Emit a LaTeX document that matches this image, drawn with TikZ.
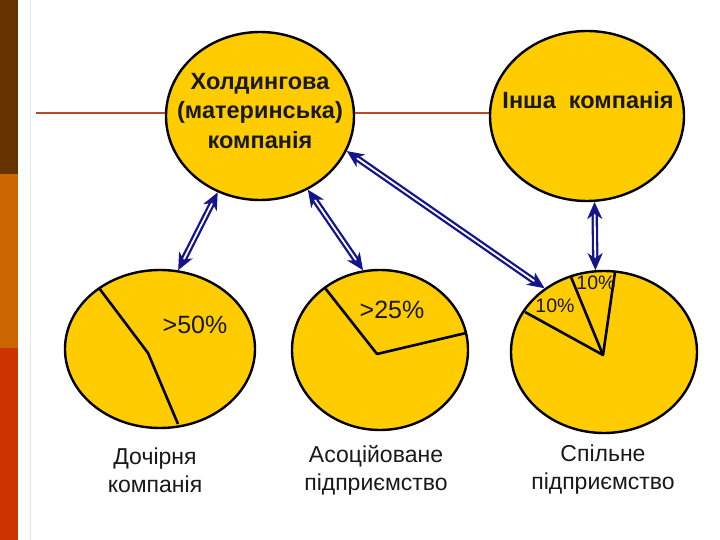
\documentclass[tikz,border=0pt]{standalone}
\usepackage{fontspec}
\setmainfont{Liberation Sans}
\usetikzlibrary{shapes.geometric,arrows.meta,calc}
\definecolor{pieyellow}{RGB}{255,204,0}
\definecolor{arrownavy}{RGB}{20,20,140}
\definecolor{hline}{RGB}{185,75,40}
\definecolor{barbrown}{RGB}{102,51,0}
\definecolor{barorange}{RGB}{204,102,0}
\definecolor{barred}{RGB}{204,51,0}
\tikzset{
  company/.style={ellipse, draw=black, line width=2.4pt, fill=pieyellow, inner sep=0pt},
  pie/.style={ellipse, draw=black, line width=2.4pt, fill=pieyellow, inner sep=0pt},
  slice/.style={draw=black, line width=2.6pt, line join=round},
  link/.style={draw=arrownavy, double=white, line width=2.3pt, double distance=1.8pt,
    {Stealth[length=17pt,width=15pt,inset=5pt]}-{Stealth[length=17pt,width=15pt,inset=5pt]}},
  toplabel/.style={font=\fontsize{23.5}{29.5}\selectfont\bfseries, align=center, text=black!90},
  botlabel/.style={font=\fontsize{23}{28}\selectfont, align=center, text=black!90},
  pct/.style={font=\fontsize{25}{26}\selectfont, text=black!90},
  smallpct/.style={font=\fontsize{19.5}{20}\selectfont, text=black!90}
}
\begin{document}
\begin{tikzpicture}[x=1pt,y=-1pt]
\useasboundingbox (0,0) rectangle (720,540);
\fill[white] (0,0) rectangle (720,540);
% side bar
\fill[barbrown] (0,0) rectangle (17.5,174);
\fill[barorange] (0,174) rectangle (17.5,348);
\fill[barred] (0,348) rectangle (17.5,540);
\draw[gray!20, line width=0.8pt] (30,0) -- (30,540);
% horizontal line
\coordinate (hl0) at (36,113);
\coordinate (hl1) at (500,113);
\draw[hline, line width=1.6pt] (hl0) -- (hl1);
% top companies
\node[company, minimum width=188pt, minimum height=168pt] (hold) at (260,116) {};
\node[company, minimum width=194pt, minimum height=170pt] (other) at (587,116) {};
\node[toplabel] (holdt) at (260,111) {Холдингова\\(материнська)\\компанія};
\node[toplabel] (othert) at (588,100) {Інша\ \ компанія};
% pies
\node[pie, minimum width=190pt, minimum height=158pt] (pieL) at (160,349) {};
\node[pie, minimum width=176pt, minimum height=160pt] (pieM) at (380,350) {};
\node[pie, minimum width=186pt, minimum height=162pt] (pieR) at (604,352) {};
% slices
\draw[slice] (99,288) -- (148,353) -- (178,424);
\draw[slice] (325,288) -- (377,354) -- (466,333);
\draw[slice] (525,312) -- (603,355) -- (571,277);
\draw[slice] (603,355) -- (615,272);
% percentages
\node[pct] (p50) at (195,325) {>50\%};
\node[pct] (p25) at (392,310) {>25\%};
\node[smallpct] (p10a) at (555,306) {10\%};
\node[smallpct] (p10b) at (596,283) {10\%};
% links
\draw[link] (hold.241) -- (pieL.77);
\draw[link] (hold.303) -- (pieM.102);
\draw[link] (hold.338) -- (pieR.133);
\draw[link] (other.275) -- (pieR.96);
% bottom labels
\node[botlabel] (labL) at (155,470) {Дочірня\\компанія};
\node[botlabel] (labM) at (376,470) {Асоційоване\\підприємство};
\node[botlabel] (labR) at (603,470) {Спільне\\підприємство};
\end{tikzpicture}
\end{document}
